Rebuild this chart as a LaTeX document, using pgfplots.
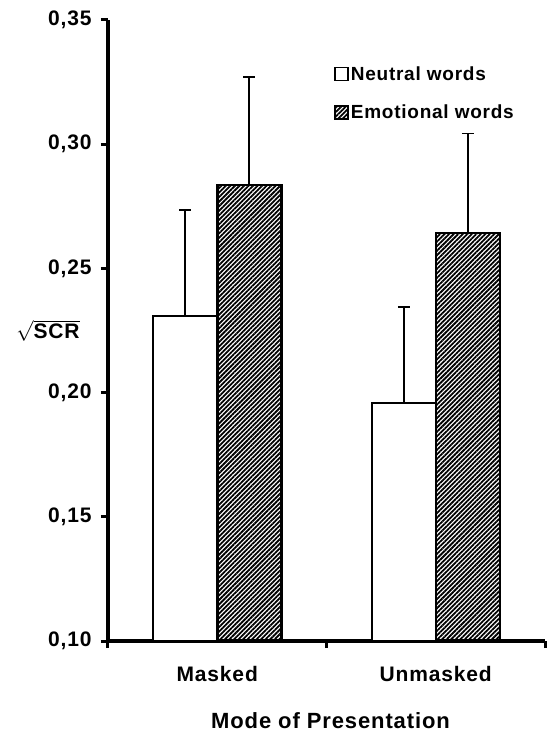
\documentclass[border=0pt]{standalone}
\usepackage{pgfplots}
\pgfplotsset{compat=1.18}
\usepackage{fontspec}
\setmainfont{Liberation Sans}[LetterSpace=4]
\usetikzlibrary{patterns.meta}
\begin{document}
\begin{tikzpicture}
\begin{axis}[
  name=ax,
  scale only axis,
  width=437bp, height=621bp,
  xmin=-0.5, xmax=1.5,
  ymin=0.10, ymax=0.35,
  ybar=0pt, bar width=64bp,
  axis x line*=bottom, axis y line*=left,
  axis line style={line width=3.5bp, -},
  every outer x axis line/.append style={-},
  every outer y axis line/.append style={-},
  xtick={-0.5,0.5,1.5}, xticklabels={},
  extra x ticks={0,1}, extra x tick labels={Masked,Unmasked},
  extra x tick style={major tick length=0pt},
  ytick={0.10,0.15,0.20,0.25,0.30,0.35},
  tick align=outside, major tick length=7bp,
  tick style={line width=3bp, black},
  yticklabel style={xshift=-6bp, /pgf/number format/.cd, fixed, fixed zerofill, precision=2, use comma, assume math mode=true},
  tick label style={font=\fontsize{21bp}{25bp}\selectfont\bfseries},
  xticklabel style={yshift=-22bp},
  xlabel={Mode of Presentation},
  xlabel style={font=\fontsize{22bp}{26bp}\selectfont\bfseries, inner sep=0pt, yshift=-20bp, xshift=4bp},
  ylabel={$\sqrt{\mbox{\bfseries SCR}}$},
  every axis y label/.style={at={(rel axis cs:0,0.5)}, anchor=center, xshift=-60bp,
    font=\fontsize{21bp}{25bp}\selectfont\bfseries},
  legend style={draw=none, fill=none, at={(0.51,0.932)}, anchor=north west,
    font=\fontsize{19bp}{23bp}\selectfont\bfseries, row sep=19bp,
    legend cell align=left,
    /tikz/every even column/.append style={column sep=9bp}},
  error bars/y dir=plus, error bars/y explicit,
  error bars/error bar style={line width=1.8bp, black},
  error bars/error mark options={rotate=90, mark size=6bp, line width=1.8bp, black},
]
\addplot[draw=black, line width=2.5bp, fill=white,
  legend image code/.code={\draw[draw=black, line width=1.8bp, fill=white] (0bp,-6.5bp) rectangle (13bp,6.5bp);}]
  coordinates {(0,0.2308) +- (0,0.0427) (1,0.1958) +- (0,0.0388)};
\addlegendentry{Neutral words}
\addplot[draw=black, line width=2.5bp, pattern={Lines[angle=45, distance=3.2bp, line width=1.8bp]},
  legend image code/.code={\draw[draw=black, line width=1.8bp, pattern={Lines[angle=45, distance=3.2bp, line width=1.8bp]}] (0bp,-6.5bp) rectangle (13bp,6.5bp);}]
  coordinates {(0,0.2836) +- (0,0.0436) (1,0.2643) +- (0,0.0400)};
\addlegendentry{Emotional words}
\end{axis}
\pgfresetboundingbox
\path ([shift={(-108bp,-92bp)}]ax.south west) rectangle ([shift={(7bp,20bp)}]ax.north east);
\end{tikzpicture}
\end{document}
